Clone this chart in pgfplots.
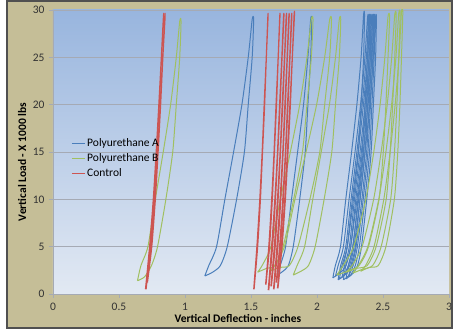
\documentclass[border=0pt]{standalone}
\usepackage{fontspec}
\setmainfont{Carlito}
\usepackage{pgfplots}
\pgfplotsset{compat=1.18}
\definecolor{tanbg}{RGB}{197,190,151}
\definecolor{frame}{RGB}{80,80,80}
\definecolor{ptop}{RGB}{152,181,222}
\definecolor{pbot}{RGB}{226,233,243}
\definecolor{serA}{RGB}{74,126,187}
\definecolor{serB}{RGB}{160,192,96}
\definecolor{serC}{RGB}{205,85,82}
\definecolor{gridc}{RGB}{165,170,180}
\begin{document}
\begin{tikzpicture}
\useasboundingbox (-53pt,-35pt) rectangle (400pt,294pt);
\fill[white] (-53pt,-35pt) rectangle (400pt,294pt);
\filldraw[fill=tanbg, draw=frame, line width=1.2pt] (-46pt,-34pt) rectangle (399pt,293pt);
\begin{axis}[
  scale only axis, width=396pt, height=284pt,
  at={(0pt,0pt)}, anchor=south west,
  xmin=0, xmax=3, ymin=0, ymax=30,
  axis background/.style={top color=ptop, bottom color=pbot},
  axis lines*=left,
  axis line style={gridc, line width=0.6pt},
  xtick={0,0.5,1,1.5,2,2.5,3},
  xticklabels={0,0.5,1,1.5,2,2.5,3},
  ytick={0,5,10,15,20,25,30},
  yticklabels={0,5,10,15,20,25,30},
  tick align=outside, major tick length=4pt,
  tick style={gridc, line width=0.6pt},
  ymajorgrids, major grid style={gridc, line width=0.7pt},
  ticklabel style={font=\fontsize{11.5}{13}\selectfont, text=black!80},
  xticklabel style={yshift=-2pt},
  yticklabel style={xshift=-1pt},
  xlabel={Vertical Deflection - inches},
  ylabel={Vertical Load - X 1000 lbs},
  xlabel style={font=\fontsize{11.5}{13}\selectfont\bfseries, at={(axis description cs:0.467,-0.088)}, anchor=center},
  ylabel style={font=\fontsize{11.5}{13}\selectfont\bfseries, at={(axis description cs:-0.078,0.465)}, anchor=center},
  legend style={draw=none, fill=none, at={(axis description cs:0.043,0.557)}, anchor=north west,
    font=\fontsize{11.5}{13}\selectfont, row sep=1.5pt, inner sep=1pt},
  legend cell align=left,
  every axis plot/.append style={line width=1pt, smooth, tension=0.4, line join=round},
]
\addlegendimage{legend image code/.code={\draw[draw=serA, line width=1.2pt] (0cm,0cm) -- (0.45cm,0cm);}}
\addlegendentry{Polyurethane A}
\addlegendimage{legend image code/.code={\draw[draw=serB, line width=1.2pt] (0cm,0cm) -- (0.45cm,0cm);}}
\addlegendentry{Polyurethane B}
\addlegendimage{legend image code/.code={\draw[draw=serC, line width=1.2pt] (0cm,0cm) -- (0.45cm,0cm);}}
\addlegendentry{Control}
% ---------- Polyurethane A ----------
\addplot[serA, forget plot] coordinates {(1.150,1.9)(1.180,3)(1.239,5)(1.302,10)(1.368,15)(1.431,20)(1.479,25)(1.509,29)
 (1.520,29)(1.509,25)(1.479,20)(1.450,15)(1.391,10)(1.320,5)(1.268,3)(1.209,2.3)(1.150,1.9)};
\addplot[serA, forget plot] coordinates {(1.700,2.0)(1.721,3)(1.762,5)(1.807,10)(1.853,15)(1.898,20)(1.931,25)(1.952,29)
 (1.960,29)(1.952,25)(1.931,20)(1.911,15)(1.869,10)(1.820,5)(1.783,3)(1.742,2.4)(1.700,2.0)};
\addplot[serA, forget plot] coordinates {(2.120,1.7)(2.139,3)(2.178,5)(2.218,10)(2.262,15)(2.302,20)(2.334,25)(2.353,29.5)
 (2.360,29.5)(2.353,25)(2.334,20)(2.314,15)(2.276,10)(2.230,5)(2.197,3)(2.158,2.1)(2.120,1.7)};
\addplot[serA, forget plot] coordinates {(2.140,1.9)(2.160,3)(2.200,5)(2.243,10)(2.288,15)(2.330,20)(2.363,25)(2.383,29.2)
 (2.390,29.2)(2.383,25)(2.363,20)(2.343,15)(2.303,10)(2.255,5)(2.220,3)(2.180,2.3)(2.140,1.9)};
\addplot[serA, forget plot] coordinates {(2.160,1.5)(2.179,3)(2.218,5)(2.258,10)(2.302,15)(2.342,20)(2.374,25)(2.393,29.2)
 (2.400,29.2)(2.393,25)(2.374,20)(2.354,15)(2.316,10)(2.270,5)(2.237,3)(2.198,1.9)(2.160,1.5)};
\addplot[serA, forget plot] coordinates {(2.170,1.6)(2.189,3)(2.228,5)(2.268,10)(2.312,15)(2.352,20)(2.384,25)(2.403,29.2)
 (2.410,29.2)(2.403,25)(2.384,20)(2.364,15)(2.326,10)(2.280,5)(2.247,3)(2.208,2.0)(2.170,1.6)};
\addplot[serA, forget plot] coordinates {(2.190,1.8)(2.208,3)(2.245,5)(2.284,10)(2.326,15)(2.365,20)(2.395,25)(2.413,29.2)
 (2.420,29.2)(2.413,25)(2.395,20)(2.376,15)(2.340,10)(2.296,5)(2.264,3)(2.227,2.2)(2.190,1.8)};
\addplot[serA, forget plot] coordinates {(2.200,1.5)(2.218,3)(2.255,5)(2.294,10)(2.336,15)(2.375,20)(2.405,25)(2.423,29.2)
 (2.430,29.2)(2.423,25)(2.405,20)(2.386,15)(2.350,10)(2.306,5)(2.274,3)(2.237,1.9)(2.200,1.5)};
\addplot[serA, forget plot] coordinates {(2.220,1.6)(2.238,3)(2.273,5)(2.310,10)(2.350,15)(2.387,20)(2.416,25)(2.433,29.2)
 (2.440,29.2)(2.433,25)(2.416,20)(2.398,15)(2.363,10)(2.321,5)(2.290,3)(2.255,2.0)(2.220,1.6)};
\addplot[serA, forget plot] coordinates {(2.240,1.8)(2.257,3)(2.290,5)(2.326,10)(2.364,15)(2.400,20)(2.427,25)(2.444,29.2)
 (2.450,29.2)(2.444,25)(2.427,20)(2.410,15)(2.377,10)(2.337,5)(2.307,3)(2.274,2.2)(2.240,1.8)};
% ---------- Polyurethane B ----------
\addplot[serB, forget plot] coordinates {(0.640,1.4)(0.666,3)(0.719,5)(0.775,10)(0.835,15)(0.891,20)(0.934,25)(0.960,28.8)
 (0.970,28.8)(0.960,25)(0.934,20)(0.907,15)(0.855,10)(0.792,5)(0.746,3)(0.693,1.8)(0.640,1.4)};
\addplot[serB, forget plot] coordinates {(1.550,2.3)(1.584,3)(1.651,5)(1.722,10)(1.798,15)(1.869,20)(1.924,25)(1.957,29)
 (1.970,29)(1.957,25)(1.924,20)(1.890,15)(1.823,10)(1.743,5)(1.684,3)(1.617,2.7)(1.550,2.3)};
\addplot[serB, forget plot] coordinates {(1.640,2.4)(1.678,3)(1.753,5)(1.833,10)(1.917,15)(1.997,20)(2.058,25)(2.096,29)
 (2.110,29)(2.096,25)(2.058,20)(2.021,15)(1.946,10)(1.856,5)(1.790,3)(1.715,2.8)(1.640,2.4)};
\addplot[serB, forget plot] coordinates {(1.820,2.0)(1.849,3)(1.906,5)(1.968,10)(2.032,15)(2.094,20)(2.140,25)(2.169,29)
 (2.180,29)(2.169,25)(2.140,20)(2.112,15)(2.054,10)(1.986,5)(1.935,3)(1.878,2.4)(1.820,2.0)};
\addplot[serB, forget plot] coordinates {(2.150,2.0)(2.198,3)(2.278,5)(2.370,10)(2.430,15)(2.478,20)(2.514,25)(2.538,29.3)
 (2.550,29.3)(2.538,25)(2.522,20)(2.502,15)(2.470,10)(2.390,5)(2.318,3)(2.230,2.4)(2.150,2.0)};
\addplot[serB, forget plot] coordinates {(2.220,2.3)(2.266,3)(2.342,5)(2.429,10)(2.486,15)(2.532,20)(2.566,25)(2.589,29.5)
 (2.600,29.5)(2.589,25)(2.573,20)(2.554,15)(2.524,10)(2.448,5)(2.380,3)(2.296,2.7)(2.220,2.3)};
\addplot[serB, forget plot] coordinates {(2.270,2.2)(2.313,3)(2.385,5)(2.468,10)(2.522,15)(2.565,20)(2.598,25)(2.619,29.6)
 (2.630,29.6)(2.619,25)(2.605,20)(2.587,15)(2.558,10)(2.486,5)(2.421,3)(2.342,2.6)(2.270,2.2)};
\addplot[serB, forget plot] coordinates {(2.330,2.4)(2.368,3)(2.432,5)(2.506,10)(2.554,15)(2.592,20)(2.621,25)(2.640,29.8)
 (2.650,29.8)(2.640,25)(2.628,20)(2.612,15)(2.586,10)(2.522,5)(2.464,3)(2.394,2.8)(2.330,2.4)};
% ---------- Control ----------
\addplot[serC, forget plot] coordinates {(0.700,0.5)(0.731,5)(0.759,10)(0.781,15)(0.801,20)(0.820,25)(0.836,29.3)
 (0.840,29.3)(0.823,25)(0.806,20)(0.787,15)(0.766,10)(0.739,5)(0.706,0.5)};
\addplot[serC, forget plot] coordinates {(0.710,1.2)(0.741,5)(0.769,10)(0.791,15)(0.811,20)(0.830,25)(0.846,29.3)
 (0.850,29.3)(0.833,25)(0.816,20)(0.797,15)(0.776,10)(0.749,5)(0.716,1.2)};
\addplot[serC, forget plot] coordinates {(1.520,0.5)(1.544,5)(1.566,10)(1.584,15)(1.599,20)(1.615,25)(1.627,29.3)
 (1.630,29.3)(1.617,25)(1.604,20)(1.588,15)(1.572,10)(1.551,5)(1.524,0.5)};
\addplot[serC, forget plot] coordinates {(1.610,1.0)(1.634,5)(1.656,10)(1.674,15)(1.689,20)(1.705,25)(1.717,29.3)
 (1.720,29.3)(1.707,25)(1.694,20)(1.678,15)(1.662,10)(1.641,5)(1.614,1.0)};
\addplot[serC, forget plot] coordinates {(1.630,0.4)(1.656,5)(1.680,10)(1.700,15)(1.716,20)(1.733,25)(1.746,29.3)
 (1.750,29.3)(1.736,25)(1.721,20)(1.704,15)(1.686,10)(1.664,5)(1.635,0.4)};
\addplot[serC, forget plot] coordinates {(1.650,0.8)(1.676,5)(1.700,10)(1.720,15)(1.736,20)(1.753,25)(1.766,29.3)
 (1.770,29.3)(1.756,25)(1.741,20)(1.724,15)(1.706,10)(1.684,5)(1.655,0.8)};
\addplot[serC, forget plot] coordinates {(1.670,0.5)(1.696,5)(1.720,10)(1.740,15)(1.756,20)(1.773,25)(1.786,29.3)
 (1.790,29.3)(1.776,25)(1.761,20)(1.744,15)(1.726,10)(1.704,5)(1.675,0.5)};
\addplot[serC, forget plot] coordinates {(1.690,1.2)(1.716,5)(1.740,10)(1.760,15)(1.776,20)(1.793,25)(1.806,29.3)
 (1.810,29.3)(1.796,25)(1.781,20)(1.764,15)(1.746,10)(1.724,5)(1.695,1.2)};
\addplot[serC, forget plot] coordinates {(1.700,0.6)(1.729,5)(1.755,10)(1.775,15)(1.794,20)(1.812,25)(1.826,29.5)
 (1.830,29.5)(1.814,25)(1.799,20)(1.781,15)(1.761,10)(1.736,5)(1.705,0.6)};
\end{axis}
\end{tikzpicture}
\end{document}
